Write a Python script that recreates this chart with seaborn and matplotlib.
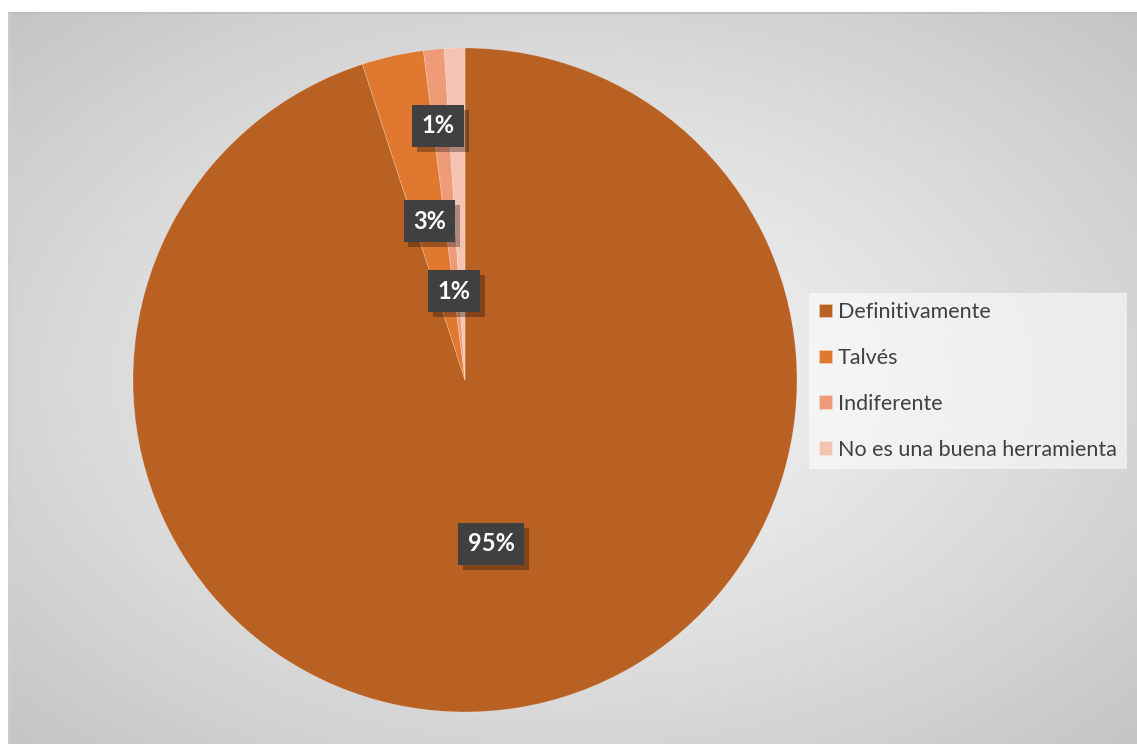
import numpy as np
import matplotlib
matplotlib.use("Agg")
import matplotlib.pyplot as plt
import matplotlib.patheffects as pe
import seaborn as sns

# Survey answers and their shares (%)
categories = ["Definitivamente", "Talvés", "Indiferente", "No es una buena herramienta"]
values = [95, 3, 1, 1]
pct_labels = ["95%", "3%", "1%", "1%"]
colors = ["#B96122", "#E0782F", "#F09B77", "#F5C3B2"]

sns.set_theme(style="white")
plt.rcParams["font.family"] = ["Lato", "DejaVu Sans"]

W, H, DPI = 1137, 744, 100
fig = plt.figure(figsize=(W / DPI, H / DPI), dpi=DPI)
fig.patch.set_facecolor("white")

# Chart area with a soft radial grey gradient
bg = fig.add_axes([8 / W, 0, 1 - 8 / W, 1 - 12 / H])
bg.set_axis_off()
ny, nx = 366, 565
yy, xx = np.mgrid[0:ny, 0:nx]
cx, cy = nx * 0.5, ny * 0.5
t = np.sqrt(((xx - cx) / cx) ** 2 + ((yy - cy) / cy) ** 2) / np.sqrt(2)
t = np.clip(t, 0, 1) ** 1.2
light, dark = 0.96, 0.77
grad = light + (dark - light) * t
rgb = np.dstack([grad, grad, grad])
bg.imshow(rgb, aspect="auto", interpolation="bilinear", extent=[0, 1, 0, 1])
bg.set_xlim(0, 1)
bg.set_ylim(0, 1)
bg.plot([0, 1], [0.999, 0.999], color="#BDBDBD", lw=1.2)
bg.plot([0.0008, 0.0008], [0, 1], color="#D0D0D0", lw=1.0)

# Pie
r_px = 332
cxp, cyp = 465, 380
ax = fig.add_axes([(cxp - r_px) / W, (H - cyp - r_px) / H, 2 * r_px / W, 2 * r_px / H])
wedges, _ = ax.pie(values, colors=colors, startangle=90, counterclock=False,
                   radius=1.0, wedgeprops=dict(linewidth=0.6, edgecolor=(1, 1, 1, 0.25)))
ax.set_xlim(-1, 1)
ax.set_ylim(-1, 1)
ax.set_aspect("equal")
ax.set_axis_off()

# Percentage labels: radial distance and angular nudge from each wedge's mid-angle
label_dist = [0.50, 0.49, 0.27, 0.77]
label_shift = [0.0, 0.0, 1.5, 4.2]
for w, lab, d, s in zip(wedges, pct_labels, label_dist, label_shift):
    mid = np.deg2rad((w.theta1 + w.theta2) / 2 + s)
    x, y = d * np.cos(mid), d * np.sin(mid)
    txt = ax.text(x, y, lab, ha="center", va="center", fontsize=17, fontweight="bold",
                  color="white",
                  bbox=dict(boxstyle="square,pad=0.4", facecolor="#404040", edgecolor="none"))
    txt.get_bbox_patch().set_path_effects([
        pe.SimplePatchShadow(offset=(3.5, -3.5), shadow_rgbFace="black", alpha=0.3),
        pe.Normal(),
    ])

leg = fig.legend(wedges, categories, loc="center left",
                 bbox_to_anchor=(809 / W, 1 - 381 / H),
                 frameon=True, fancybox=False, facecolor="white", framealpha=0.55,
                 edgecolor="none", fontsize=15.5, labelcolor="#404040",
                 handlelength=0.6, handleheight=0.6, handletextpad=0.3,
                 labelspacing=1.2, borderpad=0.45, borderaxespad=0)

fig.savefig("out.png", dpi=DPI, facecolor="white")
